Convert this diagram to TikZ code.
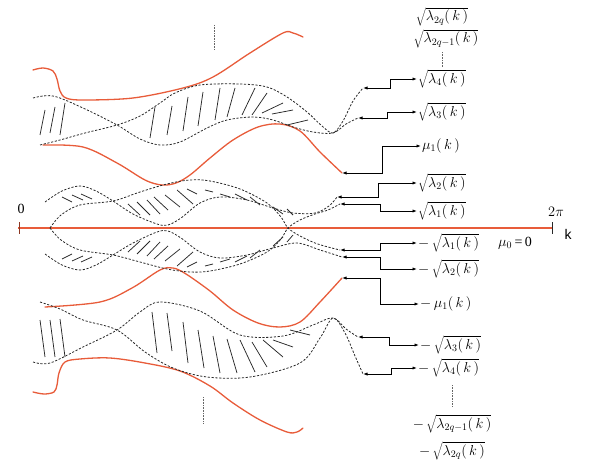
\documentclass[tikz,border=0pt]{standalone}
\usepackage{fontspec}
\setmainfont{Liberation Serif}
\setsansfont{Liberation Sans}
\usetikzlibrary{arrows.meta}
\definecolor{orng}{RGB}{232,92,58}
\definecolor{dgray}{RGB}{40,40,40}
\begin{document}
\begin{tikzpicture}[x=1pt,y=-1pt,
  orangeline/.style={draw=orng,line width=1.3pt,line cap=round},
  dashcurve/.style={draw=dgray,line width=0.8pt,dash pattern=on 2.2pt off 1.6pt},
  hatchline/.style={draw=dgray,line width=0.75pt},
  conn/.style={draw=black,line width=0.85pt,{Latex[length=4.5pt,width=3.2pt]}-{Latex[length=4.5pt,width=3.2pt]}},
  dotmark/.style={draw=black!60,line width=0.5pt,dash pattern=on 0.8pt off 0.8pt},
  lab/.style={font=\fontsize{14}{16}\selectfont,inner sep=1pt},
  axisline/.style={draw=orng,line width=1.3pt}]
\useasboundingbox (0,0) rectangle (593,470);

% ---------------- axis
\coordinate (ax0) at (18,228);
\coordinate (ax1) at (552,228);
\draw[axisline] (ax0) -- (ax1);
\draw[draw=orng!60!black,line width=0.8pt] (19,222) -- (19,234);
\draw[draw=dgray,line width=0.8pt] (552,222) -- (552,234);
\node[lab] (zero) at (21,209) {0};
\node[lab] (twopi) at (556,212) {$2\pi$};
\node[lab,font=\sffamily\fontsize{14}{16}\selectfont] (kk) at (568,234) {k};
\node[lab] (mu0) at (515,243) {$\mu_{0}$\,=\,0};

% ---------------- orange curves
\draw[orangeline] plot[smooth,tension=0.55] coordinates {(33,70) (43,68) (53,71) (57,79) (60,91) (66,98) (83,100) (133,98) (183,88) (213,77) (250,53) (283,33) (293,33) (303,37)};
\draw[orangeline] plot[smooth,tension=0.55] coordinates {(43,145) (83,147) (117,163) (145,180) (162,185) (176,183) (190,175) (210,158) (233,140) (258,127) (280,124) (300,131) (320,152) (342,173)};
\draw[orangeline] plot[smooth,tension=0.55] coordinates {(45,307) (100,302) (132,288) (160,270) (173,268) (186,274) (210,291) (233,310) (258,323) (280,327) (300,322) (320,302) (342,278)};
\draw[orangeline] plot[smooth,tension=0.55] coordinates {(33,392) (44,394) (54,392) (57,385) (59,373) (65,362) (80,359) (110,358) (145,363) (180,371) (210,386) (233,403) (260,420) (287,432) (297,432) (303,428)};

% ---------------- curve tips (connector ends)
\coordinate (t4) at (363,88);
\coordinate (t3) at (358,118);
\coordinate (tm) at (342,173);
\coordinate (t2) at (337,197);
\coordinate (t1) at (340,204);
\coordinate (tn1) at (340,250);
\coordinate (tn2) at (342,257);
\coordinate (tnm) at (342,278);
\coordinate (tn3) at (358,337);
\coordinate (tn4) at (363,374);

% ---------------- top band (lambda3, lambda4)
\draw[dashcurve] plot[smooth,tension=0.55] coordinates {(33,98) (53,96) (83,108) (117,125) (140,139) (160,145) (180,142) (207,128) (227,120) (253,117) (273,120) (293,127) (313,132) (333,133) (346,124) (t3)};
\draw[dashcurve] plot[smooth,tension=0.55] coordinates {(40,145) (60,140) (85,133) (117,125) (140,116) (160,103) (175,93) (200,85) (240,84) (267,87) (287,97) (307,112) (322,126) (333,133) (343,121) (353,101) (t4)};
\foreach \a/\b/\c/\d in {40/135/45/110, 50/133/55/107, 60/135/65/103,
  150/138/155/107, 167/135/172/106, 183/131/188/97, 198/126/203/92, 215/120/220/88,
  227/117/235/88, 242/115/255/88, 252/115/267/93, 262/113/283/103, 272/114/293/110, 287/125/308/120}
  \draw[hatchline] (\a,\b) -- (\c,\d);

% ---------------- bottom band (lambda3, lambda4)
\draw[dashcurve] plot[smooth,tension=0.55] coordinates {(40,302) (60,309) (83,320) (117,330) (145,352) (173,368) (207,377) (250,377) (300,363) (320,338) (333,318) (345,333) (355,356) (tn4)};
\draw[dashcurve] plot[smooth,tension=0.55] coordinates {(33,362) (50,363) (83,347) (117,330) (140,312) (160,302) (200,311) (240,335) (283,336) (313,325) (333,318) (346,329) (tn3)};
\foreach \a/\b/\c/\d in {40/320/45/357, 50/320/55/357, 60/319/65/357,
  152/312/157/353, 167/313/172/351, 183/322/188/363, 198/330/204/368, 213/336/220/373,
  227/339/237/373, 240/340/255/372, 252/342/267/367, 263/340/283/357, 273/340/293/347, 290/330/310/335}
  \draw[hatchline] (\a,\b) -- (\c,\d);

% ---------------- middle bands (lambda1, lambda2)
\draw[dashcurve] plot[smooth,tension=0.55] coordinates {(45,202) (62,191) (80,186) (96,191) (113,201) (133,214) (157,224) (168,225) (181,218) (200,203) (220,197) (247,200) (273,208) (293,213) (315,213) (329,206) (t2)};
\draw[dashcurve] plot[smooth,tension=0.55] coordinates {(50,228) (61,215) (80,205) (113,201) (140,192) (167,184) (190,180) (210,181) (240,189) (267,203) (281,217) (288,228) (300,236) (315,243) (328,247) (tn1)};
\draw[dashcurve] plot[smooth,tension=0.55] coordinates {(45,254) (62,265) (80,270) (96,265) (113,255) (133,243) (157,232) (168,231) (181,238) (200,252) (220,258) (247,255) (273,248) (297,243) (320,250) (tn2)};
\draw[dashcurve] plot[smooth,tension=0.55] coordinates {(50,228) (61,240) (80,250) (113,255) (140,262) (167,269) (190,272) (210,271) (240,264) (267,252) (281,239) (288,228) (300,220) (315,214) (328,210) (t1)};
\foreach \a/\b/\c/\d in {62/197/72/202, 72/195/83/200, 81/194/92/199,
  128/204/140/215, 137/202/150/215, 147/200/160/214, 154/197/168/210, 165/195/180/207, 177/190/193/204,
  187/189/197/194, 205/190/213/192, 220/194/230/197, 235/194/247/200, 250/197/260/205, 273/207/283/214, 287/209/293/215}
  \draw[hatchline] (\a,\b) -- (\c,\d);
\foreach \a/\b/\c/\d in {62/259/72/254, 72/261/83/256, 81/262/92/257,
  128/252/140/241, 137/254/150/241, 147/256/160/242, 154/259/168/246, 165/261/180/249, 177/266/193/252,
  187/267/197/262, 205/266/213/264, 220/262/230/259, 235/262/247/256, 250/258/260/250, 273/246/283/237, 287/242/293/235}
  \draw[hatchline] (\a,\b) -- (\c,\d);

% ---------------- dotted marks in the plot
\coordinate (dt0) at (214,25);
\coordinate (dt1) at (214,50);
\draw[dotmark] (dt0) -- (dt1);
\coordinate (db0) at (203,397);
\coordinate (db1) at (203,423);
\draw[dotmark] (db0) -- (db1);

% ---------------- labels
\node[lab,inner sep=0pt] (l2q)  at (442,17)  {$\sqrt{\lambda_{2q}(\,k\,)}$};
\node[lab] (l2q1) at (446,39)  {$\sqrt{\lambda_{2q-1}(\,k\,)}$};
\node[lab,anchor=west] (l4) at (417,79)  {$\sqrt{\lambda_{4}(\,k\,)}$};
\node[lab,anchor=west] (l3) at (417,112) {$\sqrt{\lambda_{3}(\,k\,)}$};
\node[lab,anchor=west] (m1) at (421,146) {$\mu_{1}(\,k\,)$};
\node[lab,anchor=west] (l2) at (417,183) {$\sqrt{\lambda_{2}(\,k\,)}$};
\node[lab,anchor=west] (l1) at (417,211) {$\sqrt{\lambda_{1}(\,k\,)}$};
\node[lab,anchor=west] (nl1) at (417,243) {$-\,\sqrt{\lambda_{1}(\,k\,)}$};
\node[lab,anchor=west] (nl2) at (417,269) {$-\,\sqrt{\lambda_{2}(\,k\,)}$};
\node[lab,anchor=west] (nm1) at (419,304) {$-\,\mu_{1}(\,k\,)$};
\node[lab,anchor=west] (nl3) at (419,345) {$-\,\sqrt{\lambda_{3}(\,k\,)}$};
\node[lab,anchor=west] (nl4) at (417,368) {$-\,\sqrt{\lambda_{4}(\,k\,)}$};
\node[lab] (nl2q1) at (452,424) {$-\,\sqrt{\lambda_{2q-1}(\,k\,)}$};
\node[lab] (nl2q)  at (452,451) {$-\,\sqrt{\lambda_{2q}(\,k\,)}$};

\coordinate (du0) at (442,52);
\coordinate (du1) at (442,67);
\draw[dotmark] (du0) -- (du1);
\coordinate (dd0) at (452,385);
\coordinate (dd1) at (452,407);
\draw[dotmark] (dd0) -- (dd1);

% ---------------- connectors
\draw[conn] (t4) -- ++(27,0) |- (l4.west);
\draw[conn] (t3) -- ++(29,0) |- (l3.west);
\draw[conn] (tm) -- ++(40,0) |- (m1.west);
\draw[conn] (t2) -- ++(41,0) |- (l2.west);
\draw[conn] (t1) -- ++(40,0) |- (l1.west);
\draw[conn] (tn1) -- ++(40,0) |- (nl1.west);
\draw[conn] (tn2) -- ++(38,0) |- (nl2.west);
\draw[conn] (tnm) -- ++(38,0) |- (nm1.west);
\draw[conn] (tn3) -- ++(31,0) |- (nl3.west);
\draw[conn] (tn4) -- ++(28,0) |- (nl4.west);
\end{tikzpicture}
\end{document}
